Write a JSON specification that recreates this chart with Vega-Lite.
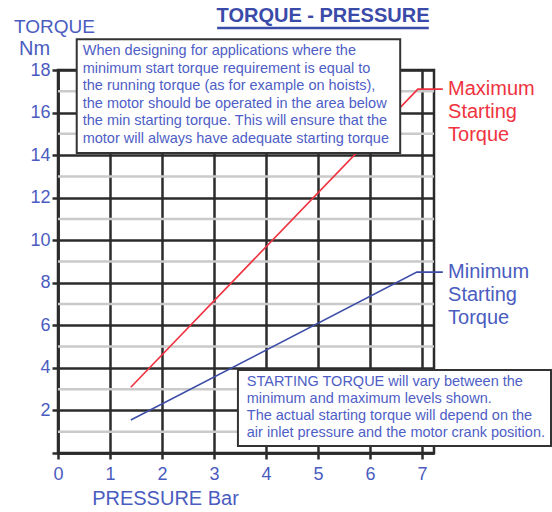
{
  "$schema": "https://vega.github.io/schema/vega-lite/v6.json",
  "autosize": "none",
  "width": 376,
  "height": 383,
  "padding": {"left": 58, "top": 70, "right": 118, "bottom": 59},
  "background": "white",
  "config": {
    "font": "Liberation Sans",
    "view": {"stroke": "#2b2b2b", "strokeWidth": 2.5}
  },
  "datasets": {
    "curves": [
      {"pressure": 1.4, "torque": 3.09, "series": "Maximum"},
      {"pressure": 6.92, "torque": 17.1, "series": "Maximum"},
      {"pressure": 7.4, "torque": 17.1, "series": "Maximum"},
      {"pressure": 1.4, "torque": 1.55, "series": "Minimum"},
      {"pressure": 6.9, "torque": 8.5, "series": "Minimum"},
      {"pressure": 7.4, "torque": 8.5, "series": "Minimum"}
    ],
    "minorGrid": [
      {"torque": 1}, {"torque": 3}, {"torque": 5}, {"torque": 7}, {"torque": 9},
      {"torque": 11}, {"torque": 13}, {"torque": 15}, {"torque": 17}
    ],
    "one": [{}]
  },
  "layer": [
    {
      "data": {"name": "minorGrid"},
      "mark": {"type": "rule", "strokeWidth": 2.5, "color": "#cacaca"},
      "encoding": {
        "y": {"field": "torque", "type": "quantitative"}
      }
    },
    {
      "data": {"name": "curves"},
      "mark": {"type": "line", "strokeWidth": 1.6},
      "encoding": {
        "x": {
          "field": "pressure", "type": "quantitative",
          "scale": {"domain": [0, 7.23], "nice": false, "zero": false},
          "axis": {
            "values": [0, 1, 2, 3, 4, 5, 6, 7],
            "title": "PRESSURE Bar",
            "titleX": 107, "titleY": 45,
            "titleAlign": "center", "titleBaseline": "middle",
            "titleFontSize": 20, "titleFontWeight": "normal", "titleColor": "#4a5cc0",
            "labelFontSize": 18, "labelColor": "#4a5cc0", "labelDx": 4, "labelPadding": 6,
            "labelFlush": false,
            "grid": true, "gridColor": "#2b2b2b", "gridWidth": 2.5, "gridOpacity": 1,
            "tickColor": "#2b2b2b", "tickWidth": 2.5, "tickSize": 6,
            "domainColor": "#2b2b2b", "domainWidth": 2.5
          }
        },
        "y": {
          "field": "torque", "type": "quantitative",
          "scale": {"domain": [0, 18], "nice": false, "zero": false},
          "axis": {
            "values": [0, 2, 4, 6, 8, 10, 12, 14, 16, 18],
            "labelExpr": "datum.value > 0 ? datum.label : ''",
            "title": "TORQUE",
            "titleAngle": 0, "titleX": -4, "titleY": -44,
            "titleAlign": "center", "titleBaseline": "middle",
            "titleFontSize": 19, "titleFontWeight": "normal", "titleColor": "#4a5cc0",
            "labelFontSize": 18, "labelColor": "#4a5cc0", "labelPadding": 2,
            "labelFlush": false,
            "grid": true, "gridColor": "#2b2b2b", "gridWidth": 2.5, "gridOpacity": 1,
            "tickColor": "#2b2b2b", "tickWidth": 2.5, "tickSize": 6,
            "domainColor": "#2b2b2b", "domainWidth": 2.5
          }
        },
        "color": {
          "field": "series", "type": "nominal",
          "scale": {"domain": ["Maximum", "Minimum"], "range": ["#ef3340", "#3d4ea8"]},
          "legend": null
        }
      }
    },
    {
      "data": {"name": "one"},
      "mark": {"type": "rect", "fill": "white", "stroke": "#333333", "strokeWidth": 2},
      "encoding": {
        "x": {"datum": 0.36, "type": "quantitative"},
        "x2": {"datum": 6.58},
        "y": {"datum": 19.45, "type": "quantitative"},
        "y2": {"datum": 14.1}
      }
    },
    {
      "data": {"name": "one"},
      "mark": {"type": "rect", "fill": "white", "stroke": "#333333", "strokeWidth": 2},
      "encoding": {
        "x": {"datum": 3.46, "type": "quantitative"},
        "x2": {"datum": 9.48},
        "y": {"datum": 3.9, "type": "quantitative"},
        "y2": {"datum": 0.33}
      }
    },
    {
      "data": {"name": "one"},
      "mark": {"type": "text", "align": "left", "baseline": "middle", "fontSize": 14.5, "lineHeight": 17.6, "color": "#4e5ec6"},
      "encoding": {
        "x": {"datum": 0.475, "type": "quantitative"},
        "y": {"datum": 18.89, "type": "quantitative"},
        "text": {"value": [
          "When designing for applications where the",
          "minimum start torque requirement is equal to",
          "the running torque (as for example on hoists),",
          "the motor should be operated in the area below",
          "the min starting torque. This will ensure that the",
          "motor will always have adequate starting torque"
        ]}
      }
    },
    {
      "data": {"name": "one"},
      "mark": {"type": "text", "align": "left", "baseline": "middle", "fontSize": 14.5, "lineHeight": 17, "color": "#4e5ec6"},
      "encoding": {
        "x": {"datum": 3.63, "type": "quantitative"},
        "y": {"datum": 3.34, "type": "quantitative"},
        "text": {"value": [
          "STARTING TORQUE will vary between the",
          "minimum and maximum levels shown.",
          "The actual starting torque will depend on the",
          "air inlet pressure and the motor crank position."
        ]}
      }
    },
    {
      "data": {"name": "one"},
      "mark": {"type": "text", "align": "left", "baseline": "middle", "fontSize": 20, "lineHeight": 23, "color": "#ef3340"},
      "encoding": {
        "x": {"datum": 7.5, "type": "quantitative"},
        "y": {"datum": 17.1, "type": "quantitative"},
        "text": {"value": ["Maximum", "Starting", "Torque"]}
      }
    },
    {
      "data": {"name": "one"},
      "mark": {"type": "text", "align": "left", "baseline": "middle", "fontSize": 20, "lineHeight": 23, "color": "#4a5cc0"},
      "encoding": {
        "x": {"datum": 7.5, "type": "quantitative"},
        "y": {"datum": 8.51, "type": "quantitative"},
        "text": {"value": ["Minimum", "Starting", "Torque"]}
      }
    },
    {
      "data": {"name": "one"},
      "mark": {"type": "text", "align": "center", "baseline": "middle", "fontSize": 20, "color": "#4a5cc0"},
      "encoding": {
        "x": {"datum": -0.45, "type": "quantitative"},
        "y": {"datum": 18.98, "type": "quantitative"},
        "text": {"value": "Nm"}
      }
    },
    {
      "data": {"name": "one"},
      "mark": {"type": "text", "align": "center", "baseline": "middle", "fontSize": 20, "fontWeight": "bold", "color": "#3a4aa8"},
      "encoding": {
        "x": {"datum": 5.096, "type": "quantitative"},
        "y": {"datum": 20.56, "type": "quantitative"},
        "text": {"value": "TORQUE - PRESSURE"}
      }
    },
    {
      "data": {"name": "one"},
      "mark": {"type": "rule", "strokeWidth": 2.5, "color": "#3a4aa8"},
      "encoding": {
        "x": {"datum": 3.06, "type": "quantitative"},
        "x2": {"datum": 7.13},
        "y": {"datum": 19.97, "type": "quantitative"}
      }
    }
  ]
}
